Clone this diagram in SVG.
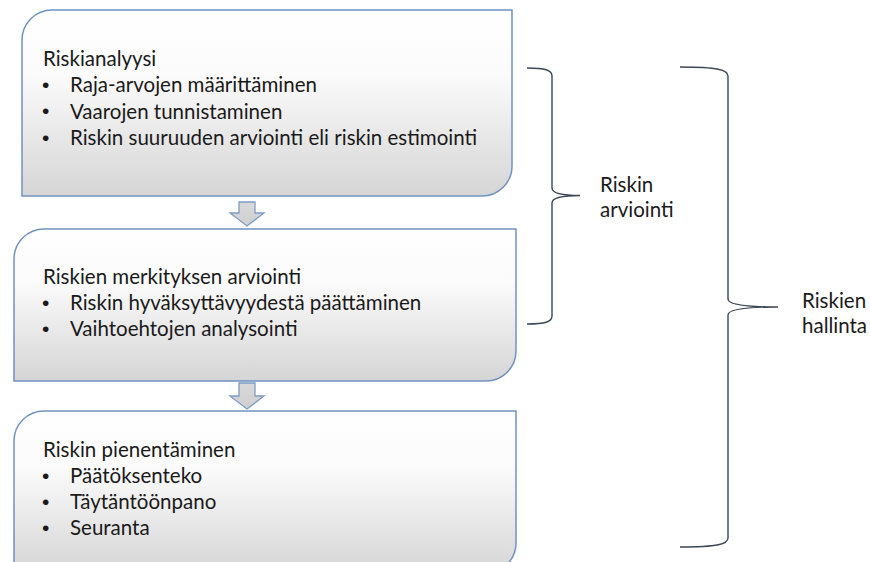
<svg xmlns="http://www.w3.org/2000/svg" width="870" height="562" viewBox="0 0 870 562">
<defs>
<linearGradient id="boxFill" x1="0" y1="0" x2="0" y2="1">
<stop offset="0" stop-color="#ffffff"/>
<stop offset="0.35" stop-color="#fbfbfb"/>
<stop offset="1" stop-color="#d5d5d5"/>
</linearGradient>
<linearGradient id="arrowFill" x1="0" y1="0" x2="0" y2="1">
<stop offset="0" stop-color="#d9d9d9"/>
<stop offset="1" stop-color="#cfcfcf"/>
</linearGradient>
</defs>
<style>
.box{fill:url(#boxFill);stroke:#6f93c0;stroke-width:1.5}
.arrow{fill:url(#arrowFill);stroke:#7c9cc6;stroke-width:1.3}
.brace{fill:none;stroke:#3e4756;stroke-width:1.4}
text{font-family:Lato,"Liberation Sans",sans-serif;font-size:20.5px;fill:#1a1a1a}
text.b{font-family:"Liberation Sans",sans-serif;font-size:21px}
</style>
<rect width="870" height="562" fill="#ffffff"/>

<g id="node-riskianalyysi">
<path class="box" d="M52,10 H512 V166 A30,30 0 0 1 482,196 H22 V40 A30,30 0 0 1 52,10 Z"/>
<text x="43" y="66">Riskianalyysi</text>
<text class="b" x="42" y="91.5">•</text><text x="70" y="92">Raja-arvojen määrittäminen</text>
<text class="b" x="42" y="118">•</text><text x="70" y="118.5">Vaarojen tunnistaminen</text>
<text class="b" x="42" y="144.5">•</text><text x="70" y="145">Riskin suuruuden arviointi eli riskin estimointi</text>
</g>

<g id="node-merkitys">
<path class="box" d="M44,229 H516 V351 A30,30 0 0 1 486,381 H14 V259 A30,30 0 0 1 44,229 Z"/>
<text x="43" y="284">Riskien merkityksen arviointi</text>
<text class="b" x="42" y="309.5">•</text><text x="70" y="310">Riskin hyväksyttävyydestä päättäminen</text>
<text class="b" x="42" y="335.5">•</text><text x="70" y="336">Vaihtoehtojen analysointi</text>
</g>

<g id="node-pienentaminen">
<path class="box" d="M44,411 H516 V543 A30,30 0 0 1 486,573 H14 V441 A30,30 0 0 1 44,411 Z"/>
<text x="43" y="457">Riskin pienentäminen</text>
<text class="b" x="42" y="482.5">•</text><text x="70" y="483">Päätöksenteko</text>
<text class="b" x="42" y="508.5">•</text><text x="70" y="509">Täytäntöönpano</text>
<text class="b" x="42" y="534.5">•</text><text x="70" y="535">Seuranta</text>
</g>

<g id="connectors">
<path class="arrow" d="M239,202 H255 V213 H264 L247,226 L230,213 H239 Z"/>
<path class="arrow" d="M239,383 H255 V396 H264 L247,409 L230,396 H239 Z"/>
<path class="brace" d="M527,68 C545,68 552,70 552,76 L552,188 C552,193 562,195.5 580,195.5 C562,195.5 552,198 552,203 L552,316 C552,322 545,324 527,324"/>
<path class="brace" d="M680,67 C718,67 728,70 728,76 L728,299 C728,304 742,307 778,307 C742,307 728,310 728,315 L728,538 C728,544 718,547 680,547"/>
</g>

<g id="label-arviointi">
<text x="600" y="192">Riskin</text>
<text x="600" y="217">arviointi</text>
</g>
<g id="label-hallinta">
<text x="802" y="308">Riskien</text>
<text x="802" y="333">hallinta</text>
</g>
</svg>
